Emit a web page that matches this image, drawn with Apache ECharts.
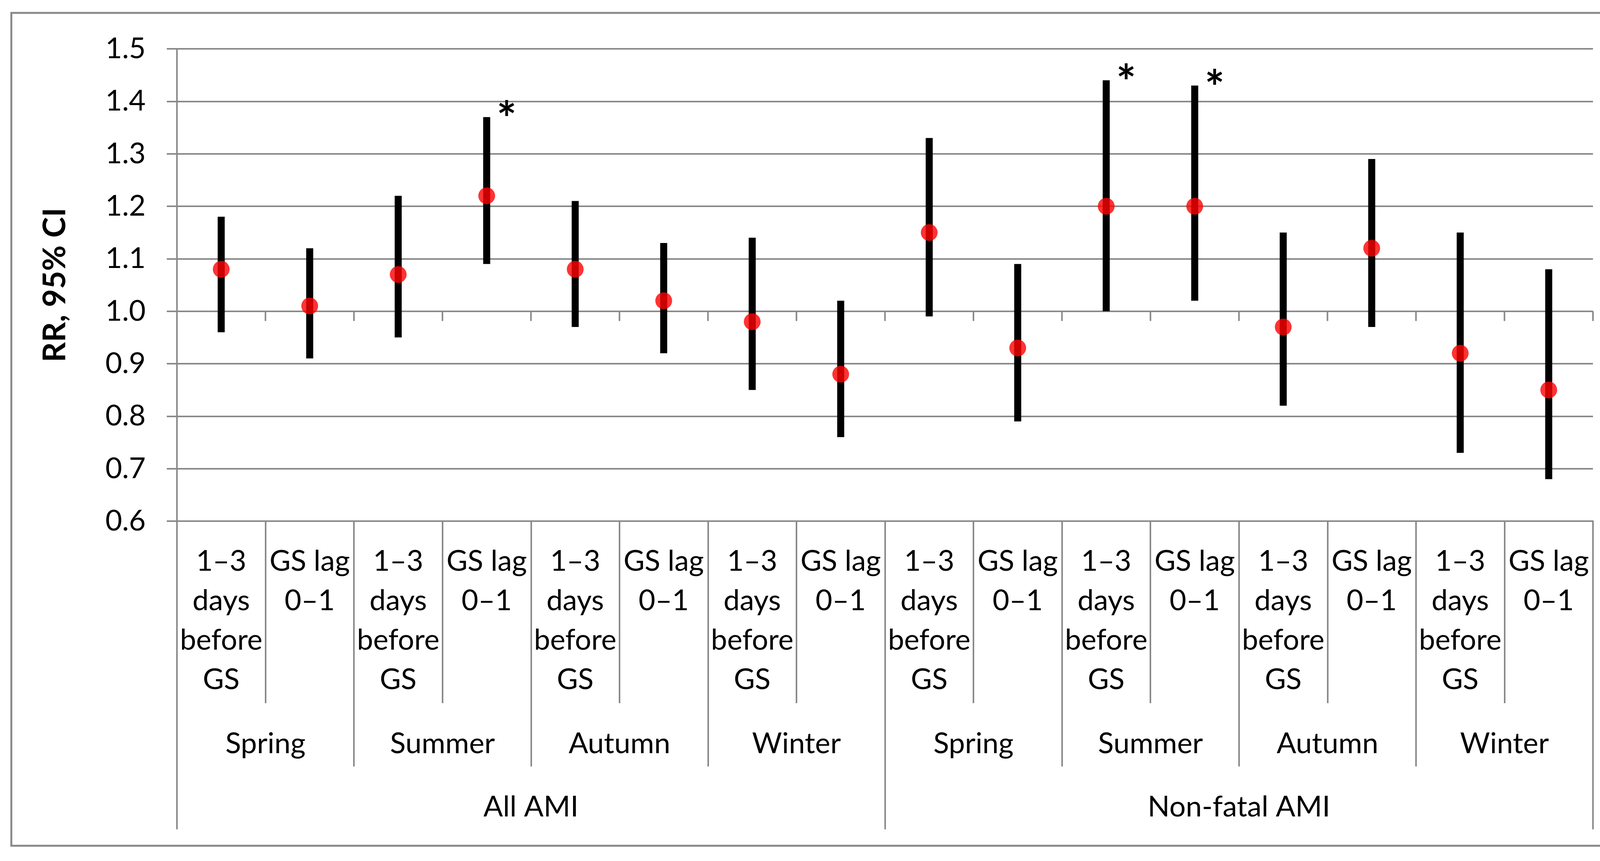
<!DOCTYPE html>
<html>
<head>
<meta charset="utf-8">
<script src="https://cdn.jsdelivr.net/npm/echarts@6/dist/echarts.min.js"></script>
<style>
html,body{margin:0;padding:0;background:#fff;overflow:hidden;}
#chart{width:4201px;height:2204px;}
</style>
</head>
<body>
<div id="chart"></div>
<script>
// ---- data ----
const lagLabels = ["1\u20133\ndays\nbefore\nGS", "GS lag\n0\u20131"];
const seasons = ["Spring", "Summer", "Autumn", "Winter"];
const groups = ["All AMI", "Non-fatal AMI"];
const rr    = [1.08, 1.01, 1.07, 1.22, 1.08, 1.02, 0.98, 0.88, 1.15, 0.93, 1.20, 1.20, 0.97, 1.12, 0.92, 0.85];
const lower = [0.96, 0.91, 0.95, 1.09, 0.97, 0.92, 0.85, 0.76, 0.99, 0.79, 1.00, 1.02, 0.82, 0.97, 0.73, 0.68];
const upper = [1.18, 1.12, 1.22, 1.37, 1.21, 1.13, 1.14, 1.02, 1.33, 1.09, 1.44, 1.43, 1.15, 1.29, 1.15, 1.08];
const significant = [3, 10, 11]; // indices marked with *
const yTicks = [0.6, 0.7, 0.8, 0.9, 1.0, 1.1, 1.2, 1.3, 1.4, 1.5];
const refLine = 1.0;

// ---- derived ----
const seasonCats = [];
groups.forEach(() => seasons.forEach(s => seasonCats.push(s)));
const categories = [];
seasonCats.forEach(() => lagLabels.forEach(l => categories.push(l)));
const N = categories.length;

const GRAY = '#898989';
const FONT = 'Lato, "Open Sans", sans-serif';

const chart = echarts.init(document.getElementById('chart'), null, {renderer: 'canvas', width: 4201, height: 2204});

const option = {
  backgroundColor: '#ffffff',
  animation: false,
  graphic: [
    {type: 'rect', shape: {x: 29, y: 33, width: 4137, height: 2132},
     style: {fill: 'none', stroke: GRAY, lineWidth: 5}, z: -10}
  ],
  grid: {left: 453, right: 123, top: 125, bottom: 870, containLabel: false, outerBoundsMode: 'none'},
  xAxis: [
    {
      type: 'category', data: categories, position: 'bottom',
      axisLine: {show: true, lineStyle: {color: GRAY, width: 4}},
      axisTick: {show: true, interval: 0, length: 466, lineStyle: {color: GRAY, width: 4}},
      axisLabel: {interval: 0, margin: 53, fontSize: 74, lineHeight: 101, color: '#000', fontFamily: FONT, verticalAlign: 'top'},
      splitLine: {show: false}
    },
    {
      type: 'category', data: seasonCats, position: 'bottom', gridIndex: 0,
      axisLine: {show: false},
      axisTick: {show: true, interval: 0, length: 628, lineStyle: {color: GRAY, width: 4}},
      axisLabel: {interval: 0, margin: 520, fontSize: 74, lineHeight: 101, color: '#000', fontFamily: FONT, verticalAlign: 'top'},
      splitLine: {show: false}
    },
    {
      type: 'category', data: groups, position: 'bottom', gridIndex: 0,
      axisLine: {show: false},
      axisTick: {show: true, interval: 0, length: 789, lineStyle: {color: GRAY, width: 4}},
      axisLabel: {interval: 0, margin: 682, fontSize: 74, lineHeight: 101, color: '#000', fontFamily: FONT, verticalAlign: 'top'},
      splitLine: {show: false}
    }
  ],
  yAxis: {
    type: 'value', min: yTicks[0], max: yTicks[yTicks.length - 1], interval: 0.1,
    name: 'RR, 95% CI', nameLocation: 'middle', nameGap: 272, nameRotate: 90,
    nameTextStyle: {fontSize: 80, fontWeight: 'bold', color: '#000', fontFamily: FONT},
    axisLine: {show: true, lineStyle: {color: GRAY, width: 4}},
    axisTick: {show: true, length: 26, lineStyle: {color: GRAY, width: 4}},
    axisLabel: {margin: 80, fontSize: 74, color: '#000', fontFamily: FONT, formatter: v => v.toFixed(1)},
    splitLine: {show: true, lineStyle: {color: GRAY, width: 4}}
  },
  series: [
    {
      // short ticks on the 1.0 reference line at category boundaries
      type: 'custom', xAxisIndex: 0, z: 1,
      data: categories.map((c, i) => [i]),
      renderItem: function (params, api) {
        const i = api.value(0);
        const p = api.coord([i, refLine]);
        const bw = api.size([1, 0])[0];
        const children = [{
          type: 'line',
          shape: {x1: p[0] - bw / 2, y1: p[1], x2: p[0] - bw / 2, y2: p[1] + 25},
          style: {stroke: GRAY, lineWidth: 4}
        }];
        if (i === N - 1) {
          children.push({
            type: 'line',
            shape: {x1: p[0] + bw / 2, y1: p[1], x2: p[0] + bw / 2, y2: p[1] + 25},
            style: {stroke: GRAY, lineWidth: 4}
          });
        }
        return {type: 'group', children: children};
      }
    },
    {
      // 95% CI bars (+ significance asterisks)
      type: 'custom', xAxisIndex: 0, z: 3,
      data: categories.map((c, i) => [i, lower[i], upper[i]]),
      renderItem: function (params, api) {
        const i = api.value(0);
        const lo = api.coord([i, api.value(1)]);
        const hi = api.coord([i, api.value(2)]);
        const w = 18;
        const children = [{
          type: 'rect',
          shape: {x: lo[0] - w / 2, y: hi[1], width: w, height: lo[1] - hi[1]},
          style: {fill: '#000'}
        }];
        if (significant.indexOf(i) >= 0) {
          children.push({
            type: 'text',
            style: {
              x: hi[0] + 51, y: hi[1] + 10, text: '*',
              fontSize: 120, fontWeight: 'bold', fontFamily: FONT, fill: '#000',
              align: 'center', verticalAlign: 'middle'
            }
          });
        }
        return {type: 'group', children: children};
      }
    },
    {
      type: 'scatter', xAxisIndex: 0, z: 5,
      data: rr.map((v, i) => [i, v]),
      symbol: 'circle', symbolSize: 43,
      itemStyle: {color: '#FF0000'}
    }
  ]
};
chart.setOption(option);
</script>
</body>
</html>
